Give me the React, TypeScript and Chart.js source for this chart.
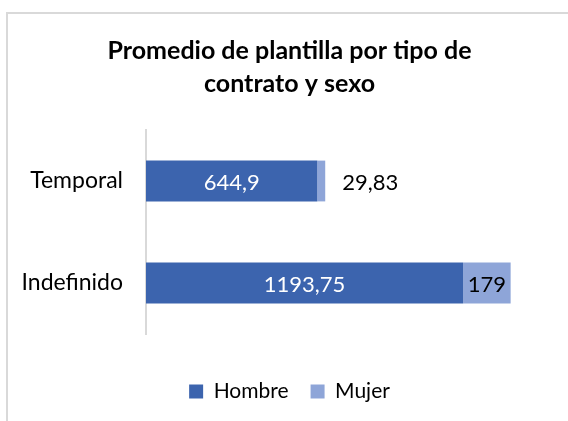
import React, { useEffect, useRef } from "react";
import { Chart, registerables } from "chart.js";

Chart.register(...registerables);

const categories = ["Temporal", "Indefinido"];
const hombreValues = [644.9, 1193.75];
const mujerValues = [29.83, 179];
const seriesNames = ["Hombre", "Mujer"];
const titleLines = ["Promedio de plantilla por tipo de", "contrato y sexo"];
const axisMin = 0;
const axisMax = 1600;

const FONT = "Lato, 'Open Sans', sans-serif";
const HOMBRE_COLOR = "#3C64AE";
const MUJER_COLOR = "#8EA5D8";

const valueLabels = {
  id: "valueLabels",
  afterDatasetsDraw(chart: any) {
    const ctx = chart.ctx;
    ctx.save();
    ctx.font = `22px ${FONT}`;
    ctx.textBaseline = "middle";
    chart.data.datasets.forEach((ds: any, di: number) => {
      const meta = chart.getDatasetMeta(di);
      meta.data.forEach((el: any, i: number) => {
        const v = ds.data[i];
        const { x, y, base } = el.getProps(["x", "y", "base"], true);
        const text = String(v).replace(".", ",");
        const w = ctx.measureText(text).width;
        const barW = x - base;
        const ty = y + 2;
        if (di === 0) {
          ctx.fillStyle = "#ffffff";
          ctx.textAlign = "center";
          ctx.fillText(text, (x + base) / 2, ty);
        } else if (w + 6 <= barW) {
          ctx.fillStyle = "#000000";
          ctx.textAlign = "center";
          ctx.fillText(text, (x + base) / 2, ty);
        } else {
          ctx.fillStyle = "#000000";
          ctx.textAlign = "left";
          ctx.fillText(text, x + 17, ty);
        }
      });
    });
    ctx.restore();
  },
};

export default function App() {
  const canvasRef = useRef<HTMLCanvasElement | null>(null);

  useEffect(() => {
    if (!canvasRef.current) return;
    const chart = new Chart(canvasRef.current, {
      type: "bar",
      data: {
        labels: categories,
        datasets: [
          {
            label: seriesNames[0],
            data: hombreValues,
            backgroundColor: HOMBRE_COLOR,
            borderWidth: 0,
            barPercentage: 0.4,
            categoryPercentage: 1,
          },
          {
            label: seriesNames[1],
            data: mujerValues,
            backgroundColor: MUJER_COLOR,
            borderWidth: 0,
            barPercentage: 0.4,
            categoryPercentage: 1,
          },
        ],
      },
      options: {
        indexAxis: "y",
        responsive: false,
        animation: false,
        devicePixelRatio: 1,
        layout: { padding: { left: 8, right: 3, top: 0, bottom: 9 } },
        scales: {
          x: {
            type: "linear",
            stacked: true,
            min: axisMin,
            max: axisMax,
            display: true,
            grid: { display: false, drawTicks: false },
            border: { display: false },
            ticks: { display: false },
            afterFit: (s: any) => {
              s.height = 25;
            },
          },
          y: {
            stacked: true,
            position: "left",
            grid: { display: false, drawTicks: false },
            border: { display: true, color: "#d9d9d9", width: 2 },
            ticks: {
              padding: 23,
              color: "#000000",
              font: { family: FONT, size: 23 },
            },
            afterFit: (s: any) => {
              s.width = 138;
            },
          },
        },
        plugins: {
          title: {
            display: true,
            text: titleLines,
            color: "#000000",
            font: { family: FONT, size: 25, weight: "bold", lineHeight: 1.32 },
            padding: { top: 34, bottom: 30 },
          },
          legend: {
            display: true,
            position: "bottom",
            labels: {
              boxWidth: 14,
              boxHeight: 14,
              padding: 22,
              color: "#000000",
              font: { family: FONT, size: 21 },
            },
          },
          tooltip: { enabled: false },
        },
      },
      plugins: [valueLabels],
    });
    return () => chart.destroy();
  }, []);

  return (
    <div
      style={{
        position: "fixed",
        left: 0,
        top: 0,
        width: 568,
        height: 421,
        overflow: "hidden",
        background: "#ffffff",
      }}
    >
      <div
        style={{
          position: "absolute",
          left: 6,
          top: 12,
          width: 700,
          height: 600,
          border: "2px solid #d9d9d9",
          boxSizing: "border-box",
        }}
      />
      <canvas
        ref={canvasRef}
        width={574}
        height={421}
        style={{ position: "absolute", left: 0, top: 0 }}
      />
    </div>
  );
}
